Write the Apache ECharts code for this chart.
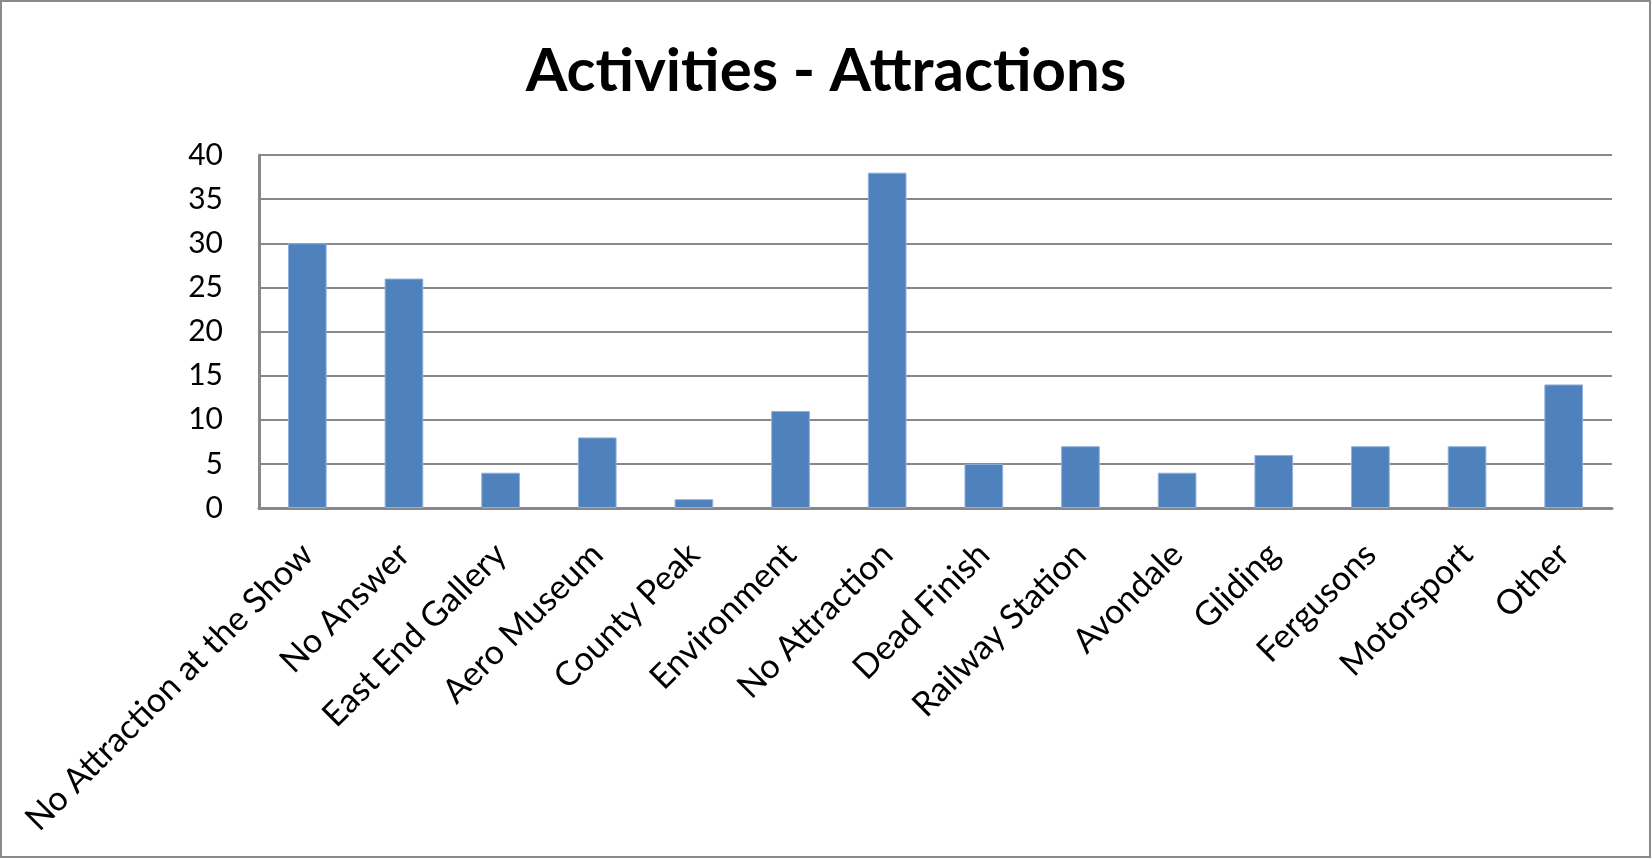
<!DOCTYPE html>
<html>
<head>
<meta charset="utf-8">
<title>Activities - Attractions</title>
<script src="https://cdn.jsdelivr.net/npm/echarts@6/dist/echarts.min.js"></script>
<style>
    html, body { margin: 0; padding: 0; background: #fff; }
    #main { width: 1652px; height: 859px; }
</style>
</head>
<body>
<div id="main"></div>
<script>
'use strict';

// categories on the x axis
let categories = [
    'No Attraction at the Show', 'No Answer', 'East End Gallery', 'Aero Museum',
    'County Peak', 'Environment', 'No Attraction', 'Dead Finish',
    'Railway Station', 'Avondale', 'Gliding', 'Fergusons', 'Motorsport', 'Other'
];
// counts
let counts = [30, 26, 4, 8, 1, 11, 38, 5, 7, 4, 6, 7, 7, 14];
// y axis ticks
let yTicks = [0, 5, 10, 15, 20, 25, 30, 35, 40];

let myChart = echarts.init(document.getElementById('main'));

let option = {
    animation: false,
    backgroundColor: '#fff',
    title: {
        text: 'Activities - Attractions',
        left: 'center',
        top: 37,
        textStyle: {
            fontFamily: 'Lato',
            fontWeight: 'bold',
            fontSize: 60,
            color: '#000'
        }
    },
    // outer frame of the chart
    graphic: [{
        type: 'rect',
        shape: {x: 1, y: 1, width: 1649, height: 856},
        style: {fill: null, stroke: '#8a8a8a', lineWidth: 2},
        silent: true
    }],
    grid: {
        left: 259,
        right: 40,
        top: 155,
        bottom: 351
    },
    xAxis: {
        type: 'category',
        data: categories,
        axisLine: {lineStyle: {color: '#888', width: 3}},
        axisTick: {show: false},
        axisLabel: {
            rotate: 45,
            interval: 0,
            margin: 41,
            fontFamily: 'Lato',
            fontSize: 34,
            color: '#000'
        }
    },
    yAxis: {
        type: 'value',
        min: yTicks[0],
        max: yTicks[yTicks.length - 1],
        interval: yTicks[1] - yTicks[0],
        axisLine: {show: true, lineStyle: {color: '#888', width: 3}},
        axisTick: {show: false},
        splitLine: {lineStyle: {color: '#888', width: 2}},
        axisLabel: {
            margin: 36,
            fontFamily: 'Lato',
            fontSize: 30,
            color: '#000'
        }
    },
    series: [{
        type: 'bar',
        data: counts,
        barWidth: '40%',
        itemStyle: {
            color: '#4f81bd',
            borderColor: '#8fb0dc',
            borderWidth: 1
        }
    }]
};

myChart.setOption(option);
</script>
</body>
</html>
